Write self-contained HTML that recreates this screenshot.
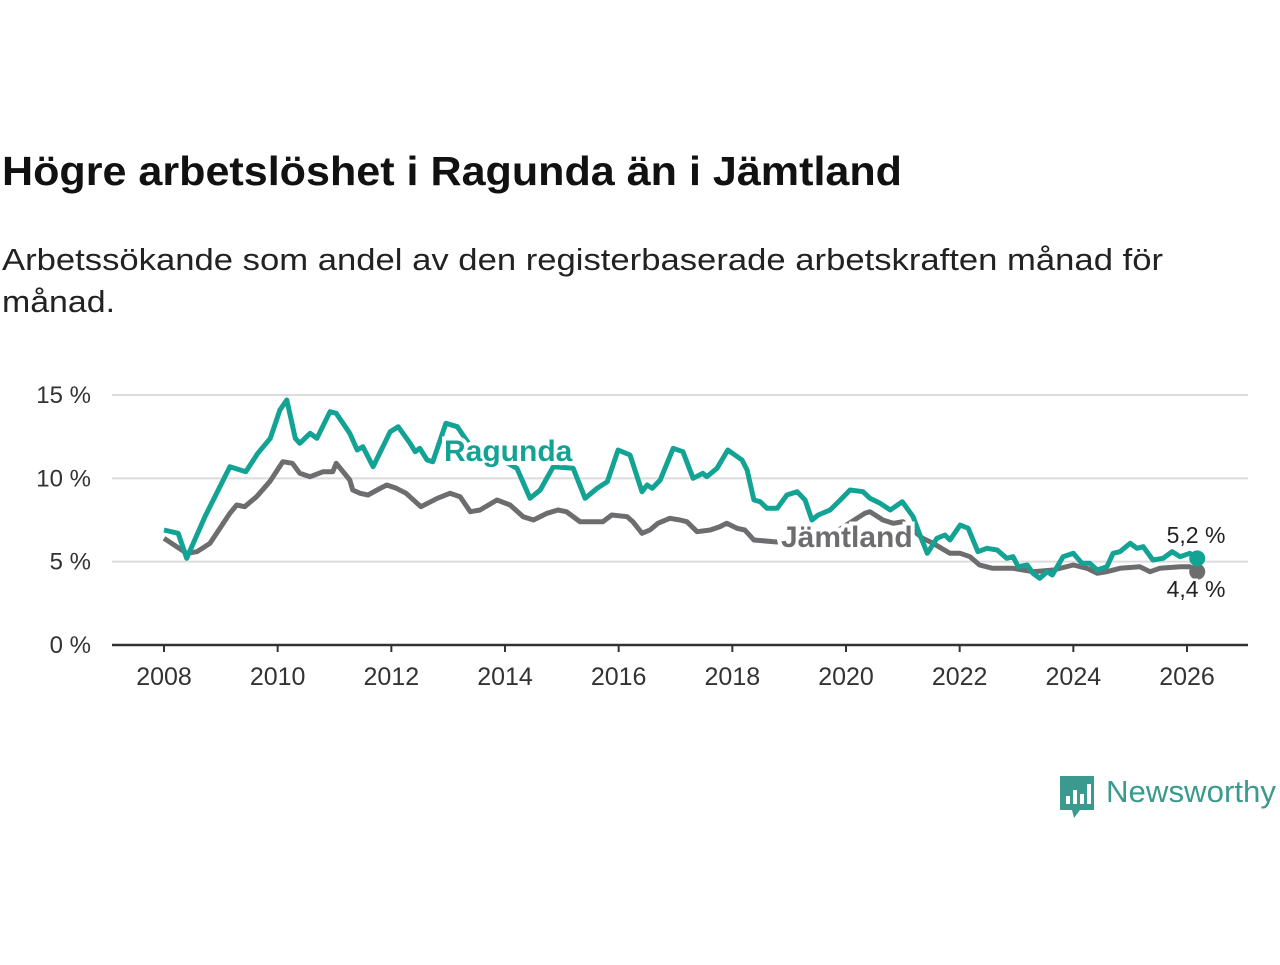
<!DOCTYPE html>
<html><head><meta charset="utf-8"><style>
body{margin:0;background:#fff;width:1280px;height:960px;overflow:hidden;font-family:"Liberation Sans","DejaVu Sans",sans-serif;}
</style></head><body>
<svg width="1280" height="960">
<text x="2" y="185" font-size="41" font-weight="bold" fill="#111" textLength="900" lengthAdjust="spacingAndGlyphs">Högre arbetslöshet i Ragunda än i Jämtland</text>
<text x="2" y="270" font-size="31" fill="#222" textLength="1161" lengthAdjust="spacingAndGlyphs">Arbetssökande som andel av den registerbaserade arbetskraften månad för</text>
<text x="2" y="312" font-size="31" fill="#222" textLength="113" lengthAdjust="spacingAndGlyphs">månad.</text>
<g id="grid"></g><g id="xaxis"></g><g id="series"></g><g id="labels"></g>
<g>
<path d="M1060 776 h34 v34 h-14 l-6 8 l-2 -8 h-12 z" fill="#3a9a8e"/>
<rect x="1066" y="796" width="4" height="8" fill="#fff"/><rect x="1073" y="790" width="4" height="14" fill="#fff"/><rect x="1080" y="794" width="4" height="10" fill="#fff"/><rect x="1087" y="784" width="4" height="20" fill="#fff"/>
<text x="1106" y="802" font-size="31" fill="#3a9a8e" textLength="170" lengthAdjust="spacingAndGlyphs">Newsworthy</text>
</g>
</svg>
<script>
const ragYears=[2008.00,2008.25,2008.40,2008.72,2009.16,2009.44,2009.65,2009.87,2010.04,2010.16,2010.31,2010.39,2010.57,2010.69,2010.92,2011.03,2011.27,2011.40,2011.50,2011.68,2011.98,2012.12,2012.33,2012.42,2012.50,2012.63,2012.73,2012.96,2013.16,2013.26,2013.38,2013.73,2014.00,2014.21,2014.44,2014.62,2014.85,2015.20,2015.41,2015.62,2015.80,2015.99,2016.20,2016.41,2016.50,2016.59,2016.73,2016.96,2017.13,2017.31,2017.48,2017.55,2017.73,2017.92,2018.17,2018.26,2018.38,2018.49,2018.61,2018.79,2018.96,2019.14,2019.28,2019.40,2019.51,2019.72,2019.90,2020.07,2020.30,2020.42,2020.60,2020.78,2020.99,2021.18,2021.30,2021.43,2021.60,2021.74,2021.83,2022.01,2022.15,2022.32,2022.48,2022.66,2022.83,2022.94,2023.03,2023.19,2023.29,2023.41,2023.54,2023.63,2023.82,2024.00,2024.15,2024.29,2024.42,2024.59,2024.70,2024.82,2025.00,2025.12,2025.23,2025.40,2025.58,2025.74,2025.88,2026.05,2026.18];
const ragVals=[6.9,6.7,5.2,7.7,10.7,10.4,11.5,12.4,14.1,14.7,12.4,12.1,12.7,12.4,14.0,13.9,12.7,11.7,11.9,10.7,12.8,13.1,12.1,11.6,11.8,11.1,11.0,13.3,13.1,12.6,12.0,11.5,11.0,10.6,8.8,9.3,10.7,10.6,8.8,9.4,9.8,11.7,11.4,9.2,9.6,9.4,9.9,11.8,11.6,10.0,10.3,10.1,10.6,11.7,11.1,10.5,8.7,8.6,8.2,8.2,9.0,9.2,8.7,7.5,7.8,8.1,8.7,9.3,9.2,8.8,8.5,8.1,8.6,7.7,6.6,5.5,6.4,6.6,6.3,7.2,7.0,5.6,5.8,5.7,5.2,5.3,4.7,4.8,4.3,4.0,4.4,4.2,5.3,5.5,4.9,4.9,4.5,4.7,5.5,5.6,6.1,5.8,5.9,5.1,5.2,5.6,5.3,5.5,5.2];
const jamYears=[2008.00,2008.40,2008.58,2008.81,2009.16,2009.28,2009.42,2009.63,2009.86,2010.09,2010.26,2010.39,2010.57,2010.80,2010.97,2011.03,2011.27,2011.32,2011.45,2011.59,2011.75,2011.92,2012.09,2012.26,2012.52,2012.81,2013.03,2013.21,2013.39,2013.56,2013.86,2014.09,2014.32,2014.50,2014.74,2014.93,2015.08,2015.32,2015.72,2015.88,2016.15,2016.25,2016.41,2016.55,2016.69,2016.90,2017.08,2017.20,2017.38,2017.61,2017.78,2017.90,2018.08,2018.22,2018.38,2018.73,2019.20,2019.50,2020.33,2020.42,2020.65,2020.83,2021.00,2021.35,2021.53,2021.83,2022.01,2022.18,2022.35,2022.58,2022.94,2023.29,2023.65,2024.00,2024.24,2024.42,2024.59,2024.82,2025.17,2025.35,2025.52,2025.88,2026.05,2026.18];
const jamVals=[6.4,5.5,5.6,6.1,7.9,8.4,8.3,8.9,9.8,11.0,10.9,10.3,10.1,10.4,10.4,10.9,9.9,9.3,9.1,9.0,9.3,9.6,9.4,9.1,8.3,8.8,9.1,8.9,8.0,8.1,8.7,8.4,7.7,7.5,7.9,8.1,8.0,7.4,7.4,7.8,7.7,7.4,6.7,6.9,7.3,7.6,7.5,7.4,6.8,6.9,7.1,7.3,7.0,6.9,6.3,6.2,6.1,6.1,7.9,8.0,7.5,7.3,7.4,6.4,6.1,5.5,5.5,5.3,4.8,4.6,4.6,4.4,4.5,4.8,4.6,4.3,4.4,4.6,4.7,4.4,4.6,4.7,4.7,4.4];
const yTicks=[0,5,10,15];
const xTicks=[2008,2010,2012,2014,2016,2018,2020,2022,2024,2026];
const NS='http://www.w3.org/2000/svg';
const X=y=>164+(y-2008)*(1187-164)/18;
const Y=v=>645-v*(645-395)/15;
function mk(t,a,p){const e=document.createElementNS(NS,t);for(const k in a)e.setAttribute(k,a[k]);p.appendChild(e);return e;}
const grid=document.getElementById('grid');
yTicks.forEach(t=>{
 if(t>0){const l=mk('line',{x1:112,x2:1248,y1:Y(t),y2:Y(t),stroke:'#dcdcdc','stroke-width':2},grid);
 
 }
 const tx=mk('text',{x:91,y:Y(t)+8,'font-size':24,fill:'#333','text-anchor':'end'},grid);tx.textContent=t+' %';
 
 
});
const xa=document.getElementById('xaxis');
const ax=mk('line',{x1:112,x2:1248,y1:645,y2:645,stroke:'#333','stroke-width':2.5},xa);


xTicks.forEach(t=>{
 mk('line',{x1:X(t),x2:X(t),y1:645,y2:652,stroke:'#333','stroke-width':2},xa);
 const tx=mk('text',{x:X(t),y:685,'font-size':25,fill:'#333','text-anchor':'middle'},xa);tx.textContent=t;
 
 
});
const sg=document.getElementById('series');
function line(ys,vs,c,name){
 const d=ys.map((y,i)=>(i?'L':'M')+X(y).toFixed(1)+' '+Y(vs[i]).toFixed(1)).join(' ');
 const p=mk('path',{d:d,fill:'none',stroke:c,'stroke-width':5,'stroke-linejoin':'round'},sg);
 
 
 const n=ys.length-1;
 const dot=mk('circle',{cx:X(ys[n]),cy:Y(vs[n]),r:8,fill:c},sg);
 
 
}
line(jamYears,jamVals,'#6d6d70','jamtland-line');
line(ragYears,ragVals,'#13a394','ragunda-line');
const lg=document.getElementById('labels');
function lab(x,y,t,c,sz,w,name,anchor){
 const e=mk('text',{x:x,y:y,'font-size':sz,'font-weight':w,fill:c,stroke:'#fff','stroke-width':w==='bold'?8:5,'paint-order':'stroke','text-anchor':anchor||'start'},lg);
 e.textContent=t;
 
 
}
lab(444,461,'Ragunda','#13a394',30,'bold','ragunda-label');
lab(781,547,'Jämtland','#6d6d70',30,'bold','jamtland-label');
lab(1196,543,'5,2 %','#222',23,'normal','ragunda-end-value','middle');
lab(1196,597,'4,4 %','#222',23,'normal','jamtland-end-value','middle');
</script>
</body></html>
